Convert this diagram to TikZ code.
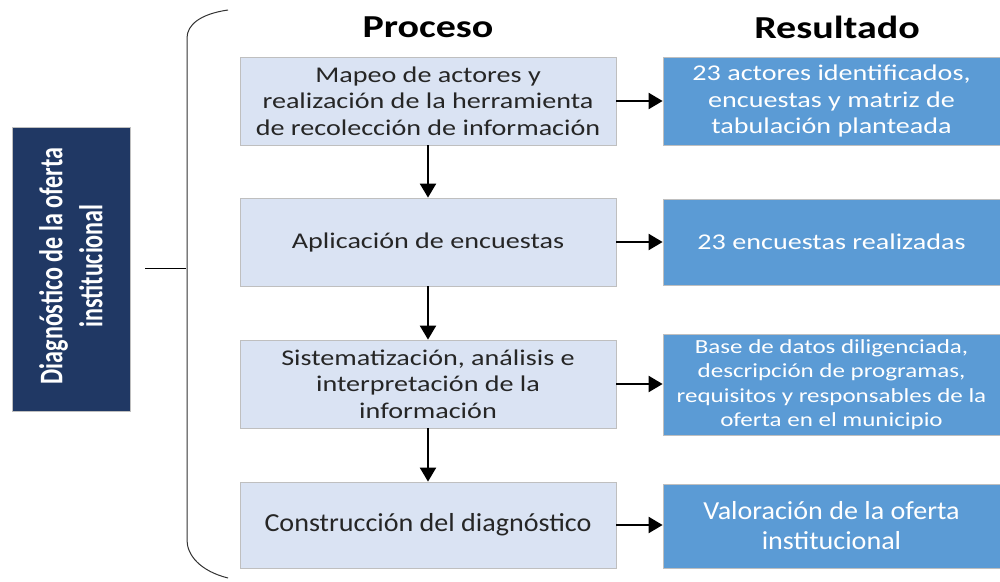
\documentclass[tikz,border=0pt]{standalone}
\usepackage{fontspec}
\setmainfont{Carlito}
\newfontfamily\wfont[FakeStretch=1.25]{Carlito}
\newfontfamily\nfont[FakeStretch=1.08]{Carlito}
\newfontfamily\hfont[FakeStretch=1.25]{Carlito}
\newfontfamily\vfont[FakeStretch=0.73]{Carlito}
\usetikzlibrary{arrows.meta}
\definecolor{navy}{HTML}{203864}
\definecolor{procfill}{HTML}{DAE3F3}
\definecolor{resfill}{HTML}{5B9BD5}
\definecolor{boxline}{HTML}{BFBFBF}
\definecolor{txt}{HTML}{262626}
\begin{document}
\begin{tikzpicture}[x=1pt,y=-1pt,
  procbox/.style={draw=boxline,line width=0.8pt,fill=procfill,minimum width=376pt,minimum height=88pt,inner sep=0pt,align=center,text=txt,font=\wfont\fontsize{22.5}{26.5}\selectfont},
  resbox/.style={draw=boxline,line width=0.8pt,fill=resfill,minimum width=337pt,minimum height=88pt,inner sep=0pt,align=center,text=white,font=\wfont\fontsize{22.5}{26.5}\selectfont},
  head/.style={font=\hfont\bfseries\fontsize{32}{38}\selectfont,text=black,inner sep=0pt},
  arr/.style={-{Triangle[length=14pt,width=16pt]},line width=2.2pt,black}]
\useasboundingbox (0,0) rectangle (1000,581);
\fill[white] (0,0) rectangle (1000,581);
% left box
\node[fill=navy,draw=boxline,line width=0.6pt,minimum width=118pt,minimum height=284pt,inner sep=0pt] (main) at (71,269) {};
\node[rotate=90,text=white,align=center,font=\vfont\bfseries\fontsize{33}{40}\selectfont,inner sep=0pt] (maintxt) at (71,266) {Diagnóstico de la oferta\\institucional};
% bracket
\coordinate (bl) at (145,268);
\coordinate (bm) at (186,268);
\draw[line width=1pt,black] (bl) -- (bm);
\draw[line width=1pt,black!80] (228,10) .. controls (200,14) and (187,25) .. (187,38) -- (187,540) .. controls (187,555) and (200,571) .. (228,578);
% headers
\node[head] (h1) at (428,27) {Proceso};
\node[head] (h2) at (837,27) {Resultado};
% process
\node[procbox] (p1) at (428,101) {Mapeo de actores y\\realización de la herramienta\\de recolección de información};
\node[procbox] (p2) at (428,242) {Aplicación de encuestas};
\node[procbox] (p3) at (428,384) {Sistematización, análisis e\\interpretación de la\\información};
\node[procbox,font=\nfont\fontsize{26}{30}\selectfont,minimum height=86pt] (p4) at (428,525) {Construcción del diagnóstico};
% results
\node[resbox] (r1) at (831.5,101) {23 actores identificados,\\encuestas y matriz de\\tabulación planteada};
\node[resbox,minimum height=86pt] (r2) at (831.5,242) {23 encuestas realizadas};
\node[resbox,minimum height=101pt,font=\wfont\fontsize{20}{24.5}\selectfont] (r3) at (831.5,384.5) {Base de datos diligenciada,\\descripción de programas,\\requisitos y responsables de la\\oferta en el municipio};
\node[resbox,font=\nfont\fontsize{26}{30}\selectfont,minimum height=84pt] (r4) at (831.5,526) {Valoración de la oferta\\institucional};
% arrows
\foreach \i in {1,2,3,4}{\draw[arr] (p\i.east) -- (p\i.east -| r\i.west);}
\draw[arr] (p1) -- (p2);
\draw[arr] (p2) -- (p3);
\draw[arr] (p3) -- (p4);
\end{tikzpicture}
\end{document}
